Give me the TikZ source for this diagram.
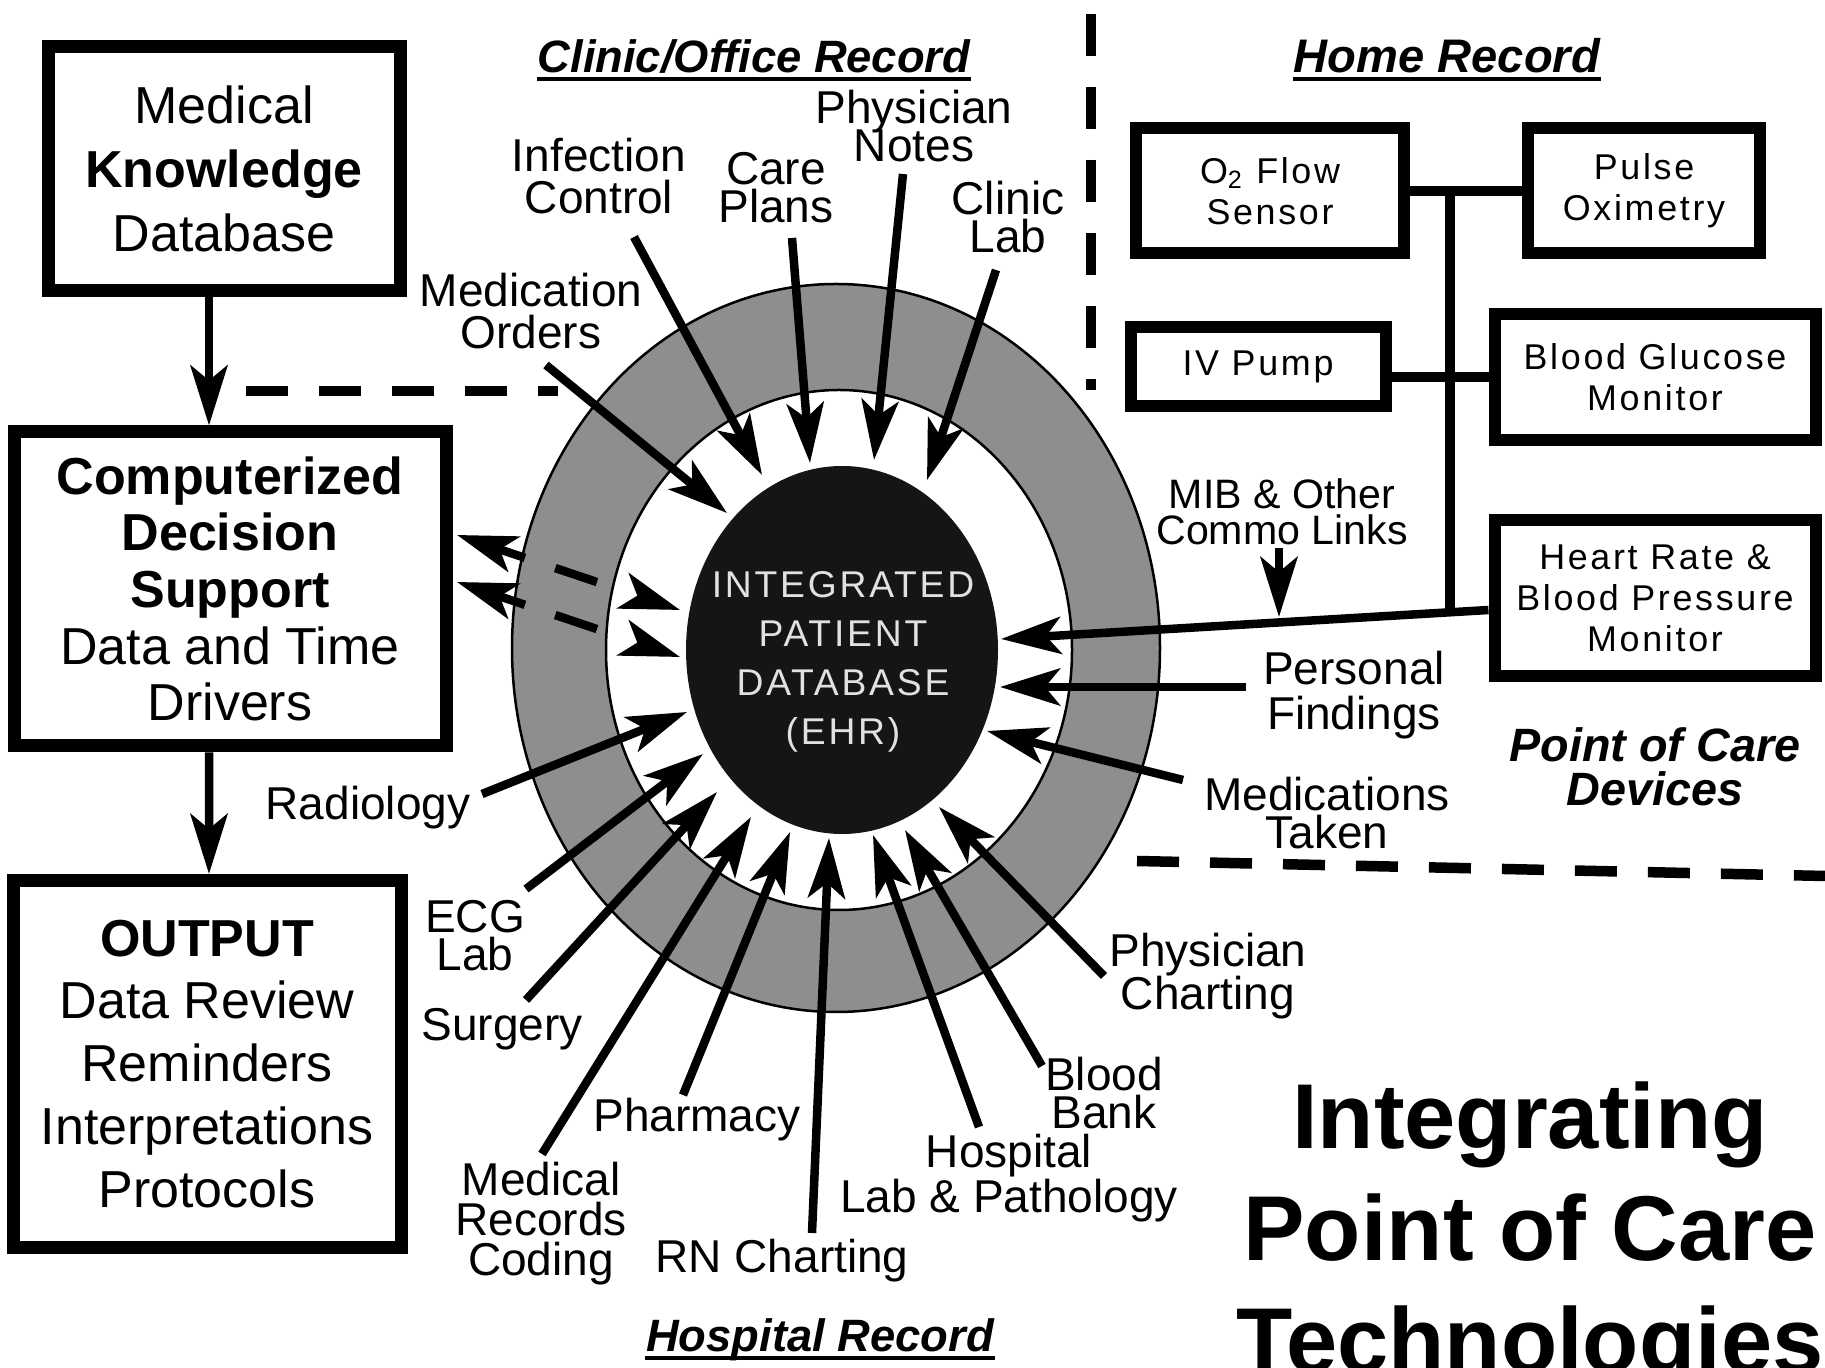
\documentclass[tikz,border=0pt]{standalone}
\usepackage{fontspec}
\setmainfont{Liberation Sans}
\newfontfamily\spacedfont[LetterSpace=7.5]{Liberation Sans}
\usetikzlibrary{arrows.meta,calc,shapes.geometric}
\definecolor{ringgray}{RGB}{142,142,142}
\definecolor{ehrblack}{RGB}{22,20,20}
\definecolor{ehrtext}{RGB}{225,225,225}
\lineskiplimit=-100pt

\begin{document}
\begin{tikzpicture}[x=0.1mm,y=-0.1mm,>={Stealth[length=6mm,width=3.7mm,inset=1.5mm]},
    bigbox/.style={draw,line width=1.3mm,inner sep=0pt,align=center},
    homebox/.style={draw,line width=1.2mm,inner sep=0pt,align=center,font=\spacedfont\fontsize{10.2}{11.7}\selectfont},
    lbl/.style={inner sep=0pt,align=center,font=\fontsize{13.1}{#1}\selectfont},
    lbl/.default=11.4,
    recordhead/.style={inner sep=0pt,anchor=base,font=\fontsize{12.9}{14}\selectfont\bfseries\itshape},
    feed/.style={->,line width=0.85mm},
    twoway/.style={<->,line width=0.85mm,dash pattern=on 3mm off 3.2mm on 4.4mm off 10mm},
    wire/.style={line width=1mm},
    sepline/.style={line width=1.05mm,dash pattern=on 4.2mm off 3.1mm},
    ehrball/.style={ellipse,fill=ehrblack,minimum width=31.2mm,minimum height=36.8mm,inner sep=0pt},
    ehrlbl/.style={text=ehrtext,align=center,inner sep=0pt,font=\spacedfont\fontsize{10.6}{13.9}\selectfont}]
\useasboundingbox (0,0) rectangle (1825,1368);
\fill[white] (0,0) rectangle (1825,1368);

% ring round the patient database
\filldraw[fill=ringgray,line width=0.25mm] (836,648) ellipse [x radius=324,y radius=364];
\filldraw[fill=white,line width=0.25mm] (839,650) ellipse [x radius=233,y radius=260];
\node[ehrball] (ehr) at (842,650) {};
\node[ehrlbl] (ehrtxt) at (843,662) {INTEGRATED\\PATIENT\\DATABASE\\(EHR)};

% region borders
\draw[sepline] (1091,14) -- (1091,390);
\draw[sepline] (246,391) -- (558,391);
\draw[sepline] (1137,861) -- (1825,876);

% record titles
\node[recordhead] (clinic) at (754,73) {Clinic/Office Record};
\node[recordhead,font=\fontsize{13.4}{14}\selectfont\bfseries\itshape] (home) at (1447,73) {Home Record};
\node[recordhead] (hosprec) at (820,1352) {Hospital Record};
\foreach \t in {clinic,home,hosprec}
  \draw[line width=0.4mm] ([yshift=-0.6mm]\t.base west) -- ([yshift=-0.6mm]\t.base east);

% decision support column
\node[bigbox,minimum width=35.2mm,minimum height=24.4mm,font=\fontsize{14.8}{18.2}\selectfont] (mkd) at (224,169)
  {Medical\\\textbf{Knowledge}\\Database};
\node[bigbox,minimum width=43.2mm,minimum height=31.4mm,font=\fontsize{14.8}{16.1}\selectfont] (cds) at (230,589)
  {\textbf{Computerized}\\\textbf{Decision}\\\textbf{Support}\\Data and Time\\Drivers};
\node[bigbox,minimum width=38.8mm,minimum height=36.7mm,font=\fontsize{14.8}{17.9}\selectfont] (out) at (207,1064)
  {\textbf{OUTPUT}\\Data Review\\Reminders\\Interpretations\\Protocols};
\draw[feed] ([xshift=-1.5mm]mkd.south) -- ([xshift=-2.1mm]cds.north);
\draw[feed] ([xshift=-2.1mm]cds.south) -- ([xshift=0.2mm]out.north);
\coordinate (cds-a) at (457,535);
\coordinate (cds-b) at (457,582);
\coordinate (ehr-a) at (680,610);
\coordinate (ehr-b) at (680,657);
\draw[twoway] (cds-a) -- (ehr-a);
\draw[twoway] (cds-b) -- (ehr-b);

% home devices
\node[homebox,minimum width=26.8mm,minimum height=12.5mm] (o2) at (1270,191) {O\textsubscript{2} Flow\\Sensor};
\node[homebox,minimum width=23.2mm,minimum height=12.5mm] (pulse) at (1644,191) {Pulse\\Oximetry};
\node[homebox,minimum width=25.5mm,minimum height=7.9mm] (iv) at (1258,367) {IV Pump};
\node[homebox,minimum width=32.1mm,minimum height=12.6mm] (bgm) at (1655,377) {Blood Glucose\\Monitor};
\node[homebox,minimum width=32.1mm,minimum height=15.6mm] (hr) at (1655,598) {Heart Rate \&\\Blood Pressure\\Monitor};
\coordinate (hr-s) at ([yshift=-1.2mm]hr.west);
\coordinate (hr-t) at (1001,639);
\coordinate (junc) at ($(hr-s)!0.08!(hr-t)$);
\draw[wire] (o2.east) -- (pulse.west);
\draw[wire] (iv.east |- bgm.west) -- (bgm.west);
\draw[wire] (junc) -- (junc |- o2.east);
\draw[feed] (hr-s) -- (hr-t);

% labels
\node[lbl=12.2] (inf) at (599,176) {Infection\\Control};
\node[lbl=10.8] (care) at (776,188) {Care\\Plans};
\node[lbl=10.8] (phys) at (914,126) {Physician\\Notes};
\node[lbl=10.8] (clab) at (1008,217) {Clinic\\Lab};
\node[lbl=11.7] (medo) at (531,311) {Medication\\Orders};
\node[lbl] (rad) at (368,808) {Radiology};
\node[lbl=10.8] (ecg) at (475,936) {ECG\\Lab};
\node[lbl] (surg) at (502,1029) {Surgery};
\node[lbl] (mrc) at (541,1224) {Medical\\Records\\Coding};
\node[lbl] (pharm) at (697,1120) {Pharmacy};
\node[lbl] (rn) at (782,1261) {RN Charting};
\node[lbl=12.8] (hosp) at (1009,1178) {Hospital\\Lab \& Pathology};
\node[lbl=10.8] (bbank) at (1104,1093) {Blood\\Bank};
\node[lbl=12.2] (phch) at (1208,976) {Physician\\Charting};
\node[lbl,font=\fontsize{11.7}{10.2}\selectfont] (mib) at (1282,512) {MIB \& Other\\Commo Links};
\node[lbl=12.8] (pers) at (1354,695) {Personal\\Findings};
\node[lbl=10.8] (medt) at (1327,813) {Medications\\Taken};
\node[lbl,font=\fontsize{13.3}{12.5}\selectfont\bfseries\itshape] (poc) at (1655,767) {Point of Care\\Devices};

% feeds into the database
\foreach \n/\sx/\sy/\tx/\ty in {inf/634/237/762/475,care/792/238/810/463,phys/903/174/874/460,
    clab/996/270/927/480,medo/546/365/727/513,pers/1246/687/1000/687,medt/1183/780/987/731,
    mib/1279/548/1279/617,phch/1104/976/939/807,bbank/1042/1066/905/830,hosp/979/1127/873/835,
    rn/812/1233/829/838,pharm/683/1095/790/832,mrc/542/1154/751/817,surg/526/1000/717/792,
    ecg/526/889/703/754,rad/482/794/687/712}{
  \coordinate (\n-s) at (\sx,\sy);
  \coordinate (\n-t) at (\tx,\ty);
  \draw[feed] (\n-s) -- (\n-t);
}

\node[inner sep=0pt,align=center,font=\fontsize{26.2}{31.9}\selectfont\bfseries] (title) at (1530,1237)
  {Integrating\\Point of Care\\Technologies};
\end{tikzpicture}
\end{document}
